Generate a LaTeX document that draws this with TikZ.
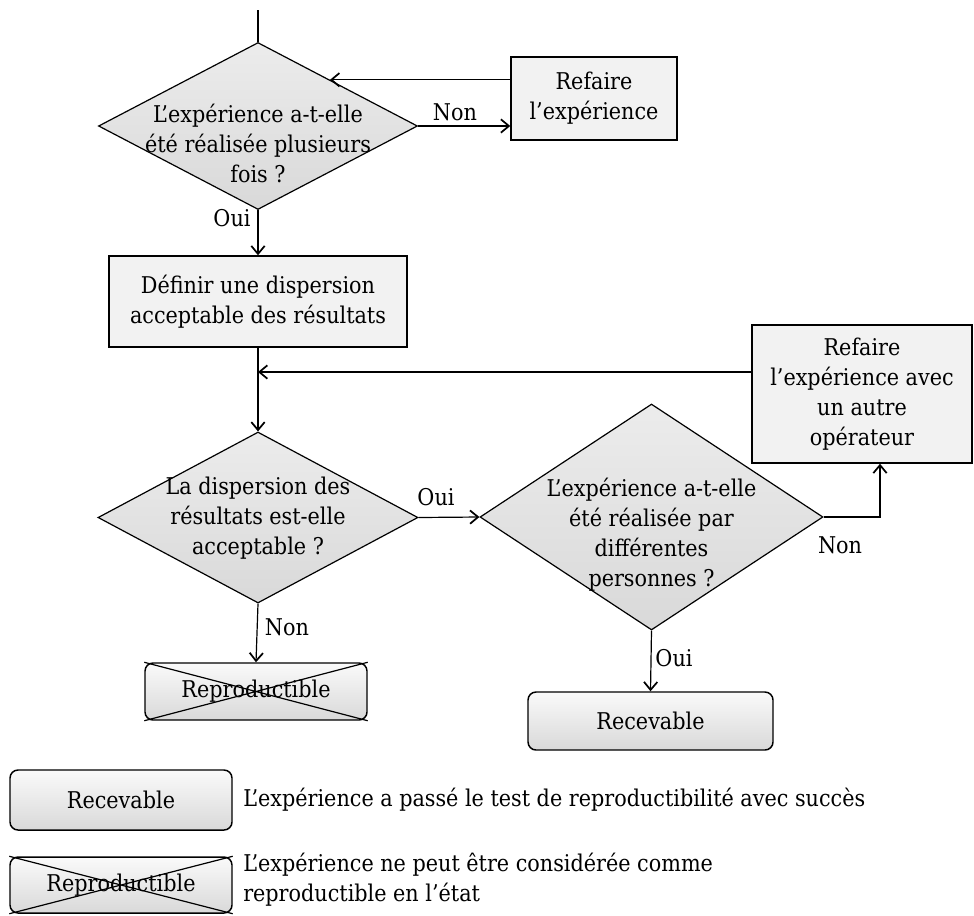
\documentclass[tikz,border=0pt]{standalone}
\usepackage{fontspec}
\setmainfont{DejaVu Serif Condensed}
\usetikzlibrary{shapes.geometric}
\usetikzlibrary{arrows.meta}
\usetikzlibrary{calc}

\begin{document}
\begin{tikzpicture}[x=0.75pt,y=0.75pt,yscale=-1,xscale=1,
  font=\fontsize{17.3}{22.5}\selectfont,
  >={Straight Barb[length=6pt,width=10pt,line width=1.3pt]},
  dia/.style={diamond, draw, line width=0.9pt, inner sep=0pt, top color=gray!15, bottom color=gray!30},
  dtxt/.style={align=center, inner sep=0pt},
  procbox/.style={rectangle, draw, line width=1.1pt, fill=gray!10, inner sep=2pt, align=center},
  endbox/.style={rectangle, rounded corners=6pt, draw, line width=1.1pt, top color=gray!4, bottom color=gray!30, inner sep=2pt},
  answer/.style={inner sep=1pt},
  flow/.style={->, line width=0.9pt}]
\useasboundingbox (0,0) rectangle (974,915);

%Shape: Diamond [q1]
\node[dia, minimum width=239.25pt, minimum height=125.25pt] (q1) at (258,126) {};
\node[dtxt] (q1t) at (258,143) {L’expérience a-t-elle\\été réalisée plusieurs\\fois ?};
%Shape: Rectangle [redo]
\node[procbox, minimum width=124.5pt, minimum height=62.25pt] (redo) at (594,98.5) {Refaire\\l’expérience};
%Shape: Rectangle [limit]
\node[procbox, minimum width=223.5pt, minimum height=68.25pt] (limit) at (258,301.5) {Définir une dispersion\\acceptable des résultats};
%Shape: Diamond [q2]
\node[dia, minimum width=240pt, minimum height=128.25pt] (q2) at (258,517.5) {};
\node[dtxt] (q2t) at (258,518) {La dispersion des\\résultats est-elle\\acceptable ?};
%Shape: Diamond [q3]
\node[dia, minimum width=257.25pt, minimum height=169.5pt] (q3) at (651.5,517) {};
\node[dtxt] (q3t) at (651.5,535) {L’expérience a-t-elle\\été réalisée par\\différentes\\personnes ?};
%Shape: Rectangle [redo2]
\node[procbox, minimum width=165pt, minimum height=103.5pt] (redo2) at (862,394) {Refaire\\l’expérience avec\\un autre\\opérateur};
%Shape: Rounded Rect [ok]
\node[endbox, minimum width=183.75pt, minimum height=43.5pt] (ok) at (650.5,721) {Recevable};
%Shape: Rounded Rect [notok]
\node[endbox, minimum width=166.5pt, minimum height=42.75pt] (notok) at (256,691.5) {Reproductible};
\draw[line width=0.9pt] (notok.north west) -- (notok.south east) (notok.south west) -- (notok.north east);

%Straight Lines
\coordinate (entry) at (258,10);
\draw[line width=2.2pt] (entry) -- (q1.north);
\draw[flow] (q1.east) -- (redo.west |- q1.east);
\coordinate (back1) at ($(q1.north)!0.45!(q1.east)$);
\draw[flow] (redo.west |- back1) -- (back1);
\draw[flow] (q1.south) -- (limit.north);
\draw[flow] (limit.south) -- (q2.north);
\coordinate (back2) at (258,372);
\draw[flow] (redo2.west |- back2) -- (back2);
\draw[flow] (q2.east) -- (q3.west);
\draw[flow] (q2.south) -- (notok.north);
\draw[flow] (q3.south) -- (ok.north);
\draw[flow] (q3.east) -| ([xshift=13.5pt]redo2.south);

% Text Node
\node[answer] (n1) at (455,112) {Non};
\node[answer] (o1) at (232,218) {Oui};
\node[answer] (o2) at (436,497) {Oui};
\node[answer] (n2) at (287,627) {Non};
\node[answer] (o3) at (674,658) {Oui};
\node[answer] (n3) at (840,545) {Non};

%Legend
\node[endbox, minimum width=166.5pt, minimum height=45pt] (legok) at (121,800) {Recevable};
\node[endbox, minimum width=166.5pt, minimum height=42pt] (legnot) at (121,885) {Reproductible};
\draw[line width=0.9pt] (legnot.north west) -- (legnot.south east) (legnot.south west) -- (legnot.north east);
\node[anchor=west, inner sep=0pt] (legokt) at (243,800) {L’expérience a passé le test de reproductibilité avec succès};
\node[anchor=west, align=left, inner sep=0pt] (legnott) at (243,880) {L’expérience ne peut être considérée comme\\reproductible en l’état};

\end{tikzpicture}
\end{document}
